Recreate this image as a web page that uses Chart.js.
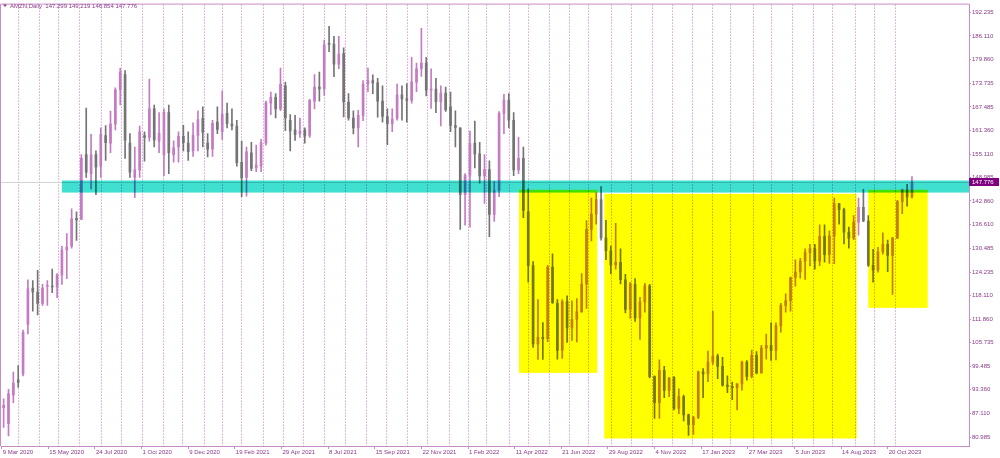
<!DOCTYPE html>
<html><head><meta charset="utf-8">
<script src="https://cdn.jsdelivr.net/npm/chart.js@4.4.0/dist/chart.umd.min.js"></script>
<style>html,body{margin:0;padding:0;background:#fff;overflow:hidden}canvas{display:block}</style>
</head><body>
<canvas id="c" width="1000" height="458"></canvas>
<script>
// ---- data (each candle aggregates 5 daily bars; x = daily bar index from 9 Mar 2020) ----
const symbolTitle = 'AMZN,Daily';
const lastOHLC = ['147.299', '149.219', '146.854', '147.776'];
const lastPrice = 147.776;
const barsPerCandle = 5;

const opens = [88.7,84.5,92.0,96.0,97.5,110.5,120.0,119.0,116.0,120.5,120.5,120.3,123.5,130.0,131.0,138.3,138.0,155.0,150.0,155.0,
152.0,160.0,158.0,163.0,172.0,176.0,158.0,149.0,151.0,160.0,159.5,167.0,158.5,155.0,166.0,155.0,157.0,159.8,158.0,156.0,
160.0,164.5,158.0,156.5,163.5,161.0,165.8,163.0,162.5,153.0,149.0,155.5,151.5,152.0,158.0,168.5,170.0,167.0,173.0,164.0,
161.5,160.5,161.5,160.0,169.0,172.7,172.2,184.0,184.0,178.7,181.5,168.8,164.6,162.0,165.3,173.5,174.4,173.8,169.0,165.0,
163.1,164.5,170.7,169.6,169.2,174.0,177.5,179.0,171.9,172.2,168.9,171.1,167.5,162.6,162.0,144.5,149.6,158.0,155.2,149.4,
151.1,139.3,145.6,165.8,169.3,164.0,151.0,154.0,140.0,125.9,105.4,107.1,106.8,125.5,116.0,103.7,116.5,109.6,111.8,113.8,
121.1,135.4,139.4,143.2,133.2,129.8,126.1,126.8,122.2,114.4,121.0,112.2,116.4,120.6,96.8,90.0,98.5,93.2,96.5,88.5,
91.6,86.8,84.2,86.1,98.1,97.5,100.6,102.2,99.5,94.6,94.2,93.9,94.9,100.6,96.9,102.4,97.8,104.3,105.0,103.7,
110.2,115.5,116.75,122.8,124.25,127.1,129.3,130.4,127.1,133.6,128.8,133.7,142.2,140.6,134.7,133.1,137.3,141.2,137.6,126.0,
124.7,129.5,131.5,128.6,133.1,142.7,145.8,143.9];
const highs = [91.0,93.5,98.0,99.7,109.0,122.2,122.0,124.7,121.0,122.0,125.0,123.8,131.0,134.3,140.8,140.0,155.0,167.2,160.3,156.0,
162.0,162.6,166.4,172.5,177.6,177.0,160.5,157.0,162.5,161.0,174.8,168.0,166.0,167.0,168.0,158.6,161.0,162.7,161.0,163.3,
166.5,167.5,160.5,164.0,167.5,171.7,168.5,167.0,164.0,158.5,157.0,158.2,157.5,159.0,169.0,171.4,171.0,177.7,174.0,165.5,
165.3,164.6,162.0,169.5,176.0,176.6,185.0,188.65,186.0,186.0,183.0,171.0,166.5,166.6,174.4,177.7,175.9,175.0,173.0,167.0,
167.0,173.5,173.0,173.6,180.5,179.0,188.1,180.5,177.5,175.0,173.0,172.7,171.4,166.5,162.0,150.0,161.2,163.8,158.2,155.0,
153.4,148.0,166.3,170.8,171.0,166.0,159.5,157.0,146.0,127.0,117.0,111.0,126.0,129.0,117.0,117.0,118.0,116.7,117.3,123.8,
137.7,143.6,145.0,146.6,137.8,131.0,137.0,130.3,123.6,121.5,122.5,117.6,121.3,121.0,97.0,101.2,99.5,96.5,96.8,93.6,
92.0,87.0,86.4,98.3,98.9,103.5,114.0,102.7,101.9,97.0,95.4,95.0,100.9,101.0,103.8,103.4,105.0,108.0,110.9,110.9,
116.0,118.5,122.9,127.4,127.8,130.3,131.5,131.5,136.6,136.6,135.0,143.6,142.2,141.0,136.0,139.0,143.6,145.9,139.0,130.2,
130.7,134.5,132.6,133.3,143.0,146.0,147.2,149.22];
const lows = [83.5,81.3,90.0,94.0,97.0,108.0,114.0,113.0,115.5,115.5,118.8,117.5,121.0,122.5,130.5,132.5,138.0,149.0,146.0,144.5,
149.0,153.5,155.5,161.5,168.0,154.0,149.0,143.7,149.0,153.3,158.5,157.0,155.5,149.5,150.0,153.0,153.0,156.0,153.5,154.5,
156.0,157.0,154.4,154.5,160.5,159.0,162.0,161.5,152.0,144.0,144.1,150.8,150.5,150.5,157.5,165.5,164.6,166.5,161.3,156.0,
158.7,159.5,158.0,159.5,167.0,169.0,170.5,182.0,175.4,177.5,164.9,164.0,160.4,157.0,163.9,171.5,171.0,164.8,163.5,157.6,
161.0,164.0,164.0,163.5,168.5,171.5,175.5,170.4,167.1,166.0,162.5,166.3,161.0,157.0,135.4,136.5,136.0,151.5,147.5,142.2,
133.5,137.5,144.0,160.5,162.0,149.5,150.0,138.5,121.6,104.5,101.3,101.3,106.0,116.0,101.4,101.6,105.8,106.3,105.9,113.7,
114.7,132.4,136.8,132.6,127.5,123.8,125.0,121.1,113.5,112.1,111.3,106.6,113.7,96.5,85.9,85.9,91.3,91.6,88.1,87.1,
85.2,81.4,81.7,85.8,91.3,95.5,100.0,96.3,94.3,92.6,90.8,88.1,93.3,95.9,96.5,97.5,97.7,101.4,101.1,101.2,
108.5,113.7,114.0,120.5,122.6,122.3,125.8,125.0,125.9,126.8,126.5,126.4,136.8,131.6,130.5,132.7,133.9,137.4,125.7,121.6,
124.2,128.9,124.3,118.35,133.0,139.5,141.5,143.6];
const closes = [89.3,92.3,95.1,95.3,108.4,119.8,119.0,116.0,120.0,120.5,120.3,123.5,130.0,130.8,138.2,137.9,154.0,150.4,155.0,151.7,
160.3,158.1,163.0,172.0,176.6,158.8,150.4,151.0,161.0,159.5,167.0,158.8,160.6,166.1,155.5,156.8,159.8,158.1,155.8,160.1,
164.2,160.9,156.4,163.2,161.6,165.6,163.1,162.5,152.9,148.9,155.7,151.4,152.3,158.1,168.6,170.0,167.0,173.4,164.6,161.2,
160.2,161.2,159.9,169.2,172.7,172.2,183.8,183.9,178.7,181.3,168.8,164.6,162.0,165.3,173.5,174.4,173.8,169.0,165.0,163.1,
164.3,170.7,169.6,169.2,174.1,177.5,179.0,171.9,172.2,168.9,171.1,166.7,162.6,162.1,144.5,149.6,157.9,155.2,149.4,151.1,
139.3,145.6,165.8,169.3,164.0,151.0,154.0,140.4,125.9,105.4,107.1,106.8,125.5,116.2,103.7,116.5,109.6,111.8,113.8,121.1,
135.4,139.4,143.2,133.2,129.8,126.1,126.8,122.2,114.4,121.1,112.2,116.4,120.6,96.8,90.0,98.5,93.2,96.5,88.5,91.6,
86.8,84.2,86.1,98.1,97.5,100.6,102.2,99.5,94.6,94.2,93.9,94.9,100.6,96.9,102.4,97.8,104.3,105.0,103.7,110.2,
115.5,116.75,122.8,124.25,127.1,129.3,130.4,127.1,133.6,128.8,133.7,142.2,140.6,134.7,133.1,137.3,141.2,137.6,126.0,124.7,
129.5,131.5,128.6,133.1,142.7,145.8,143.9,147.78];

const dateLabels = ['9 Mar 2020','15 May 2020','24 Jul 2020','1 Oct 2020','9 Dec 2020','19 Feb 2021','29 Apr 2021',
'8 Jul 2021','15 Sep 2021','22 Nov 2021','1 Feb 2022','11 Apr 2022','21 Jun 2022','29 Aug 2022','4 Nov 2022',
'17 Jan 2023','27 Mar 2023','5 Jun 2023','14 Aug 2023','20 Oct 2023'];
const labelEveryBars = 48;
const monthStartBars = [17,38,58,80,102,123,144,166,186,208,227,246,269,290,310,332,353,375,396,417,438,460,480,499,
522,542,563,584,604,627,648,669,690,711,731,750,773,792,814,835,855,878,898,920];
const yTickValues = [192.235,186.110,179.860,173.735,167.485,161.360,155.110,148.985,142.860,136.610,130.485,
124.235,118.110,111.860,105.735,99.485,93.360,87.110,80.985];

// zones: [fromBar, toBar, topPrice, bottomPrice]
const bandZone = [62, 1000, 148.22, 145.05];
const boxZones = [[532.5, 613.0, 145.78, 97.8], [620.3, 880.1, 144.72, 80.6], [892.0, 953.2, 145.78, 114.85]];

// ---- styles ----
const UP = '#c47bc4', DOWN = '#747474', FRAME = '#c88cc8', TXT = '#8a3a8a';
const FONT = {family: "'Liberation Sans', Arial, sans-serif", size: 6};

const idx = opens.map((_, i) => i * barsPerCandle + 2);
const colorOf = (c) => closes[c.dataIndex] >= opens[c.dataIndex] ? UP : DOWN;

const decor = {
  id: 'decor',
  beforeDraw(chart) {
    const ctx = chart.ctx;
    ctx.save(); ctx.fillStyle = '#fff'; ctx.fillRect(0, 0, chart.width, chart.height); ctx.restore();
  },
  beforeDatasetsDraw(chart) {
    const {ctx, chartArea: a, scales: {x, y}} = chart;
    ctx.save();
    ctx.strokeStyle = 'rgba(196,110,196,0.95)'; ctx.lineWidth = 1; ctx.setLineDash([1, 2]);
    monthStartBars.forEach(b => {
      const px = Math.round(x.getPixelForValue(b)) + 0.5;
      ctx.beginPath(); ctx.moveTo(px, a.top); ctx.lineTo(px, a.bottom); ctx.stroke();
    });
    ctx.setLineDash([]);
    ctx.strokeStyle = '#d4d4d4';
    const py = Math.round(y.getPixelForValue(lastPrice)) + 0.5;
    ctx.beginPath(); ctx.moveTo(a.left, py); ctx.lineTo(a.right, py); ctx.stroke();
    ctx.restore();
  },
  afterDatasetsDraw(chart) {
    const {ctx, chartArea: a, scales: {x, y}} = chart;
    ctx.save();
    ctx.beginPath(); ctx.rect(a.left, a.top, a.right - a.left, a.bottom - a.top); ctx.clip();
    ctx.globalCompositeOperation = 'multiply';
    const rect = (z, col) => {
      const x0 = x.getPixelForValue(z[0]), x1 = Math.min(x.getPixelForValue(z[1]), a.right);
      const y0 = y.getPixelForValue(z[2]), y1 = y.getPixelForValue(z[3]);
      ctx.fillStyle = col; ctx.fillRect(x0, y0, x1 - x0, y1 - y0);
    };
    rect(bandZone, '#40e0d0');
    boxZones.forEach(z => rect(z, '#ffff00'));
    ctx.restore();
  },
  afterDraw(chart) {
    const {ctx, chartArea: a, scales: {y}} = chart;
    ctx.save();
    ctx.strokeStyle = FRAME; ctx.lineWidth = 1;
    ctx.beginPath(); ctx.moveTo(a.left - 0.5, a.bottom); ctx.lineTo(a.left - 0.5, a.top - 0.5); ctx.lineTo(a.right, a.top - 0.5); ctx.stroke();
    ctx.font = `${FONT.size}px ${FONT.family}`;
    ctx.textBaseline = 'middle';
    ctx.fillStyle = TXT;
    ctx.beginPath(); ctx.moveTo(3, 4.5); ctx.lineTo(7, 4.5); ctx.lineTo(5, 7); ctx.closePath(); ctx.fill();
    ctx.fillText(symbolTitle + '  ' + lastOHLC.join(' '), 10, 6);
    const py = y.getPixelForValue(lastPrice);
    ctx.fillStyle = '#800080';
    ctx.fillRect(a.right, Math.round(py) - 4, chart.width - a.right - 1, 8);
    ctx.fillStyle = '#ffffff';
    ctx.fillText(lastPrice.toFixed(3), a.right + 3, Math.round(py));
    ctx.restore();
  }
};

new Chart(document.getElementById('c'), {
  type: 'bar',
  data: {
    datasets: [
      {data: idx.map((b, i) => ({x: b, y: [lows[i], highs[i]]})), backgroundColor: colorOf, barThickness: 1, grouped: false, minBarLength: 1},
      {data: idx.map((b, i) => ({x: b, y: [opens[i], closes[i]]})), backgroundColor: colorOf, barThickness: 2, grouped: false, minBarLength: 1}
    ]
  },
  options: {
    responsive: false, animation: false, devicePixelRatio: 1,
    layout: {padding: {top: 1, left: 1, right: 0, bottom: 0}},
    plugins: {legend: {display: false}, tooltip: {enabled: false}},
    scales: {
      x: {
        type: 'linear', offset: false, min: -0.72, max: 995.7,
        grid: {offset: false, drawOnChartArea: false, drawTicks: true, tickLength: 3, color: FRAME},
        border: {display: true, color: FRAME},
        afterBuildTicks: s => { s.ticks = dateLabels.map((_, k) => ({value: k * labelEveryBars})); },
        afterFit: s => { s.height = 12; },
        ticks: {autoSkip: false, maxRotation: 0, minRotation: 0, align: 'start', labelOffset: 1, padding: 0,
          color: TXT, font: FONT, callback: (v, i) => dateLabels[i]}
      },
      y: {
        position: 'right', min: 78.64, max: 194.315,
        grid: {drawOnChartArea: false, drawTicks: true, tickLength: 2, color: FRAME},
        border: {display: true, color: FRAME},
        afterBuildTicks: s => { s.ticks = yTickValues.map(v => ({value: v})); },
        afterFit: s => { s.width = 31; },
        ticks: {autoSkip: false, padding: 1, color: TXT, font: FONT, callback: v => Number(v).toFixed(3)}
      }
    }
  },
  plugins: [decor]
});
</script>
</body></html>
